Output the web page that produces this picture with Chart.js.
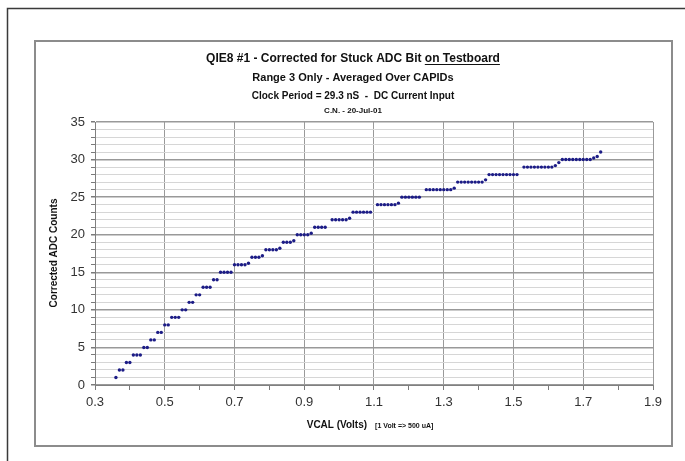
<!DOCTYPE html>
<html>
<head>
<meta charset="utf-8">
<script src="https://cdn.jsdelivr.net/npm/chart.js@4"></script>
<style>
html, body { margin: 0; padding: 0; background: #fff; }
</style>
</head>
<body>
<canvas id="myChart" width="685" height="461"></canvas>
<script>
// VCAL setting (Volts) and averaged ADC count
const vcalVolts = [
    0.36, 0.37, 0.38, 0.39, 0.40, 0.41, 0.42, 0.43, 0.44, 0.45,
    0.46, 0.47, 0.48, 0.49, 0.50, 0.51, 0.52, 0.53, 0.54, 0.55,
    0.56, 0.57, 0.58, 0.59, 0.60, 0.61, 0.62, 0.63, 0.64, 0.65,
    0.66, 0.67, 0.68, 0.69, 0.70, 0.71, 0.72, 0.73, 0.74, 0.75,
    0.76, 0.77, 0.78, 0.79, 0.80, 0.81, 0.82, 0.83, 0.84, 0.85,
    0.86, 0.87, 0.88, 0.89, 0.90, 0.91, 0.92, 0.93, 0.94, 0.95,
    0.96, 0.98, 0.99, 1.00, 1.01, 1.02, 1.03, 1.04, 1.05, 1.06,
    1.07, 1.08, 1.09, 1.11, 1.12, 1.13, 1.14, 1.15, 1.16, 1.17,
    1.18, 1.19, 1.20, 1.21, 1.22, 1.23, 1.25, 1.26, 1.27, 1.28,
    1.29, 1.30, 1.31, 1.32, 1.33, 1.34, 1.35, 1.36, 1.37, 1.38,
    1.39, 1.40, 1.41, 1.42, 1.43, 1.44, 1.45, 1.46, 1.47, 1.48,
    1.49, 1.50, 1.51, 1.53, 1.54, 1.55, 1.56, 1.57, 1.58, 1.59,
    1.60, 1.61, 1.62, 1.63, 1.64, 1.65, 1.66, 1.67, 1.68, 1.69,
    1.70, 1.71, 1.72, 1.73, 1.74, 1.75
];
const adcCounts = [
    1, 2, 2, 3, 3, 4, 4, 4, 5, 5,
    6, 6, 7, 7, 8, 8, 9, 9, 9, 10,
    10, 11, 11, 12, 12, 13, 13, 13, 14, 14,
    15, 15, 15, 15, 16, 16, 16, 16, 16.2, 17,
    17, 17, 17.2, 18, 18, 18, 18, 18.2, 19, 19,
    19, 19.2, 20, 20, 20, 20, 20.2, 21, 21, 21,
    21, 22, 22, 22, 22, 22, 22.2, 23, 23, 23,
    23, 23, 23, 24, 24, 24, 24, 24, 24, 24.2,
    25, 25, 25, 25, 25, 25, 26, 26, 26, 26,
    26, 26, 26, 26, 26.2, 27, 27, 27, 27, 27,
    27, 27, 27, 27.3, 28, 28, 28, 28, 28, 28,
    28, 28, 28, 29, 29, 29, 29, 29, 29, 29,
    29, 29, 29.2, 29.6, 30, 30, 30, 30, 30, 30,
    30, 30, 30, 30.2, 30.4, 31
];

const titleLines = [
    'Range 3 Only - Averaged Over CAPIDs',
    'Clock Period = 29.3 nS  -  DC Current Input',
    'C.N. - 20-Jul-01'
];

const FONT = '"Liberation Sans", Arial, sans-serif';

const points = vcalVolts.map((v, i) => ({ x: v, y: adcCounts[i] }));

const framePlugin = {
    id: 'frame',
    beforeDraw(chart) {
        const ctx = chart.ctx;
        ctx.save();
        ctx.fillStyle = '#fff';
        ctx.fillRect(0, 0, chart.width, chart.height);
        // outer page frame
        ctx.strokeStyle = '#3a3a3a';
        ctx.lineWidth = 1.5;
        ctx.beginPath();
        ctx.moveTo(7.5, chart.height);
        ctx.lineTo(7.5, 8.5);
        ctx.lineTo(chart.width, 8.5);
        ctx.stroke();
        // chart box
        ctx.strokeStyle = '#8c8c8c';
        ctx.lineWidth = 2;
        ctx.strokeRect(35, 41, 637, 405);
        ctx.restore();
    },
    afterDraw(chart) {
        const ctx = chart.ctx;
        const cx = 353;
        ctx.save();
        ctx.fillStyle = '#111';
        ctx.textBaseline = 'alphabetic';

        // first title line, last part underlined
        ctx.font = 'bold 12px ' + FONT;
        const p1 = 'QIE8 #1 - Corrected for Stuck ADC Bit ';
        const p2 = 'on Testboard';
        const w1 = ctx.measureText(p1).width;
        const w2 = ctx.measureText(p2).width;
        let x0 = cx - (w1 + w2) / 2;
        ctx.textAlign = 'left';
        ctx.fillText(p1, x0, 62);
        ctx.fillText(p2, x0 + w1, 62);
        ctx.fillRect(x0 + w1, 64, w2, 1);

        ctx.textAlign = 'center';
        ctx.font = 'bold 11px ' + FONT;
        ctx.fillText(titleLines[0], cx, 81);
        ctx.font = 'bold 10px ' + FONT;
        ctx.fillText(titleLines[1], cx, 99);
        ctx.font = 'bold 8px ' + FONT;
        ctx.fillText(titleLines[2], cx, 113);

        // x axis title
        ctx.textAlign = 'left';
        ctx.font = 'bold 10px ' + FONT;
        const xa = 'VCAL (Volts)';
        const xb = '[1 Volt => 500 uA]';
        const wa = ctx.measureText(xa).width;
        ctx.font = 'bold 7px ' + FONT;
        const wb = ctx.measureText(xb).width;
        x0 = 370 - (wa + 8 + wb) / 2;
        ctx.font = 'bold 10px ' + FONT;
        ctx.fillText(xa, x0, 428);
        ctx.font = 'bold 7px ' + FONT;
        ctx.fillText(xb, x0 + wa + 8, 428);

        // y axis title
        ctx.translate(57, 253);
        ctx.rotate(-Math.PI / 2);
        ctx.textAlign = 'center';
        ctx.font = 'bold 10px ' + FONT;
        ctx.fillText('Corrected ADC Counts', 0, 0);
        ctx.restore();
    }
};

const isOddTenth = v => Math.round(v * 10) % 2 === 1;

const config = {
    type: 'scatter',
    data: {
        datasets: [{
            label: 'ADC counts',
            data: points,
            backgroundColor: '#1c1c86',
            borderWidth: 0,
            pointRadius: 1.7,
            pointStyle: 'circle',
            showLine: false
        }]
    },
    options: {
        responsive: false,
        animation: false,
        layout: { padding: { left: 35, right: 32, top: 122, bottom: 36 } },
        plugins: { legend: { display: false }, tooltip: { enabled: false } },
        scales: {
            x: {
                type: 'linear',
                min: 0.3,
                max: 1.9,
                afterFit(scale) { scale.height = 40; },
                border: { color: '#808080', width: 1 },
                grid: {
                    color: c => (c.tick && isOddTenth(c.tick.value)) ? '#9a9a9a' : 'rgba(0,0,0,0)',
                    tickColor: '#7a7a7a',
                    tickLength: 5,
                    lineWidth: 1
                },
                ticks: {
                    stepSize: 0.1,
                    autoSkip: false,
                    maxRotation: 0,
                    padding: 5,
                    color: '#333',
                    font: { family: FONT, size: 13 },
                    callback: v => isOddTenth(v) ? v.toFixed(1) : ''
                }
            },
            y: {
                min: 0,
                max: 35,
                afterFit(scale) { scale.width = 60; },
                border: { color: '#808080', width: 1 },
                grid: {
                    color: c => (c.tick && c.tick.value % 5 === 0) ? '#999' : '#d6d6d6',
                    lineWidth: c => (c.tick && c.tick.value % 5 === 0) ? 1.5 : 1,
                    tickColor: '#7a7a7a',
                    tickLength: 4
                },
                ticks: {
                    stepSize: 1,
                    autoSkip: false,
                    padding: 6,
                    color: '#333',
                    font: { family: FONT, size: 13 },
                    callback: v => v % 5 === 0 ? v : ''
                }
            }
        }
    },
    plugins: [framePlugin]
};

const myChart = new Chart(document.getElementById('myChart'), config);
</script>
</body>
</html>
